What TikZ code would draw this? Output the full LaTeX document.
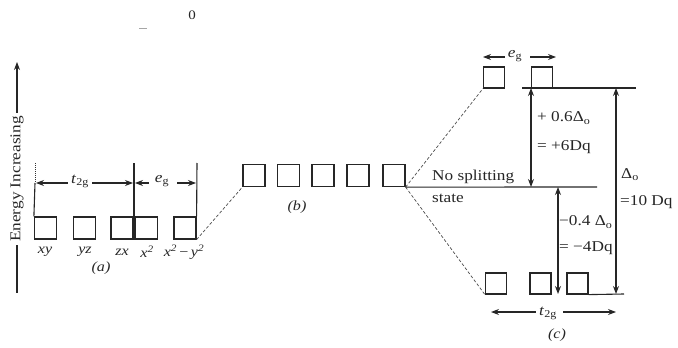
\documentclass[tikz,border=0pt]{standalone}
\usepackage{fontspec}
\setmainfont{Liberation Serif}[FakeStretch=1.15]
\usetikzlibrary{arrows.meta}
\begin{document}
\begin{tikzpicture}[x=1pt,y=-1pt,
  orb/.style={draw=black!85,line width=1.2pt,minimum width=22pt,minimum height=22pt,inner sep=0pt},
  orbs/.style={orb,minimum width=21pt,minimum height=21pt},
  lvl/.style={draw=black!85,line width=1.1pt},
  dsh/.style={draw=black!70,densely dashed,line width=0.7pt},
  dbl/.style={draw=black!85,line width=1.1pt,{Stealth[length=8pt,width=6pt]}-{Stealth[length=8pt,width=6pt]}},
  one/.style={draw=black!85,line width=1.1pt,-{Stealth[length=8pt,width=6pt]}},
  txt/.style={font=\fontsize{15}{17}\selectfont,inner sep=0pt,text=black!85},
  ltxt/.style={txt,anchor=west},
  ital/.style={txt,font=\fontsize{14}{16}\selectfont\itshape}]
\useasboundingbox (0,0) rectangle (678,348);
% top stray marks
\node[txt,font=\fontsize{13}{14}\selectfont] (zero) at (192,15) {0};
\coordinate (m1) at (139,28); \coordinate (m2) at (147,28);
\draw[black!35,line width=0.8pt] (m1) -- (m2);
% energy axis
\node[txt,font=\fontsize{15}{17}\selectfont,rotate=90] (en) at (17,179) {Energy Increasing};
\coordinate (axtop) at (17,62); \coordinate (axbot) at (17,293);
\draw[one] (en.east) ++(0,-3) coordinate (ena) -- (axtop);
\draw[lvl] (en.west) ++(0,3) coordinate (enb) -- (axbot);
% (a) orbitals
\node[orb] (a1) at (45.5,228) {};
\node[orb] (a2) at (84.5,228) {};
\node[orb] (a3) at (122,228) {};
\node[orb] (a4) at (146.5,228) {};
\node[orb] (a5) at (185,228) {};
\node[ital] (la1) at (45,252) {xy};
\node[ital] (la2) at (85,252) {yz};
\node[ital] (la3) at (122,252) {zx};
\node[ital] (la4) at (147,252) {x\textsuperscript{2}};
\node[ital] (la5) at (184,252) {x\textsuperscript{2}\,\textup{−}\,y\textsuperscript{2}};
\node[ital] (capa) at (101,268) {(a)};
% (a) guide lines
\coordinate (g1t) at (35,163); \coordinate (g1m) at (35,183);
\coordinate (g2t) at (134,163); \coordinate (g2b) at (134,240);
\coordinate (g3t) at (197,163);
\draw[black!80,line width=1pt,densely dotted] (g1t) -- (g1m);
\draw[lvl] (g1m) -- (a1.north west);
\draw[lvl] (g2t) -- (g2b);
\draw[lvl] (g3t) -- (a5.north east);
% t2g / eg arrows in (a)
\node[txt] (t2ga) at (80,181) {\textit{t}\textsubscript{2g}};
\node[txt] (ega) at (162,181) {\textit{e}\textsubscript{g}};
\coordinate (ta1) at (36,183); \coordinate (ta2) at (133,183);
\coordinate (ea1) at (135,183); \coordinate (ea2) at (196,183);
\draw[one] (t2ga.west) ++(-3,2) -- (ta1);
\draw[one] (t2ga.east) ++(3,2) -- (ta2);
\draw[one] (ega.west) ++(-6,2) -- (ea1);
\draw[one] (ega.east) ++(8,2) -- (ea2);
% (b) orbitals
\node[orb] (b1) at (254,175.5) {};
\node[orb] (b2) at (288.5,175.5) {};
\node[orb] (b3) at (323,175.5) {};
\node[orb] (b4) at (358,175.5) {};
\node[orb] (b5) at (394,175.5) {};
\node[ital] (capb) at (297,207) {(b)};
\draw[dsh] (a5.south east) -- (b1.south west);
% (c) orbitals
\node[orbs] (cu1) at (494,77.5) {};
\node[orbs] (cu2) at (542,77.5) {};
\node[orbs] (cl1) at (496,283.5) {};
\node[orbs] (cl2) at (540.5,283.5) {};
\node[orbs] (cl3) at (577.5,283.5) {};
\draw[dsh] (b5.south east) -- (cu1.south west);
\draw[dsh] (b5.south east) -- (cl1.south west);
% levels
\coordinate (ns) at (597,187);
\draw[lvl] (b5.south east) -- (ns);
\coordinate (up1) at (522,88); \coordinate (up2) at (636,88);
\draw[lvl] (up1) -- (up2);
\coordinate (lo2) at (624,294);
\draw[lvl] (cl3.south east) -- (lo2);
\node[ltxt] (nos) at (432,177) {No splitting};
\node[ltxt] (sta) at (432,198) {state};
% vertical arrows
\coordinate (v1t) at (531,88); \coordinate (v1b) at (531,187);
\coordinate (v2t) at (558,187); \coordinate (v2b) at (558,294);
\coordinate (v3t) at (616,88); \coordinate (v3b) at (616,294);
\draw[dbl] (v1t) -- (v1b);
\draw[dbl] (v2t) -- (v2b);
\draw[dbl] (v3t) -- (v3b);
\node[ltxt] (p06) at (537,118) {+ 0.6Δ\textsubscript{o}};
\node[ltxt] (p6) at (537,147) {= +6Dq};
\node[ltxt] (m04) at (559,222) {−0.4 Δ\textsubscript{o}};
\node[ltxt] (m4) at (559,248) {= −4Dq};
\node[ltxt] (del) at (621,175) {Δ\textsubscript{o}};
\node[ltxt] (tdq) at (620,202) {=10 Dq};
% eg arrows (c)
\node[txt] (egc) at (515,56) {\textit{e}\textsubscript{g}};
\coordinate (ec1) at (483,57); \coordinate (ec2) at (556,57);
\draw[one] (egc.west) ++(-3,1) -- (ec1);
\draw[one] (egc.east) ++(8,1) -- (ec2);
% t2g arrows (c)
\node[txt] (t2gc) at (548,313) {\textit{t}\textsubscript{2g}};
\coordinate (tc1) at (491,312); \coordinate (tc2) at (616,312);
\draw[one] (t2gc.west) ++(-3,-1) -- (tc1);
\draw[one] (t2gc.east) ++(6,-1) -- (tc2);
\node[ital] (capc) at (557,335) {(c)};
\end{tikzpicture}
\end{document}
